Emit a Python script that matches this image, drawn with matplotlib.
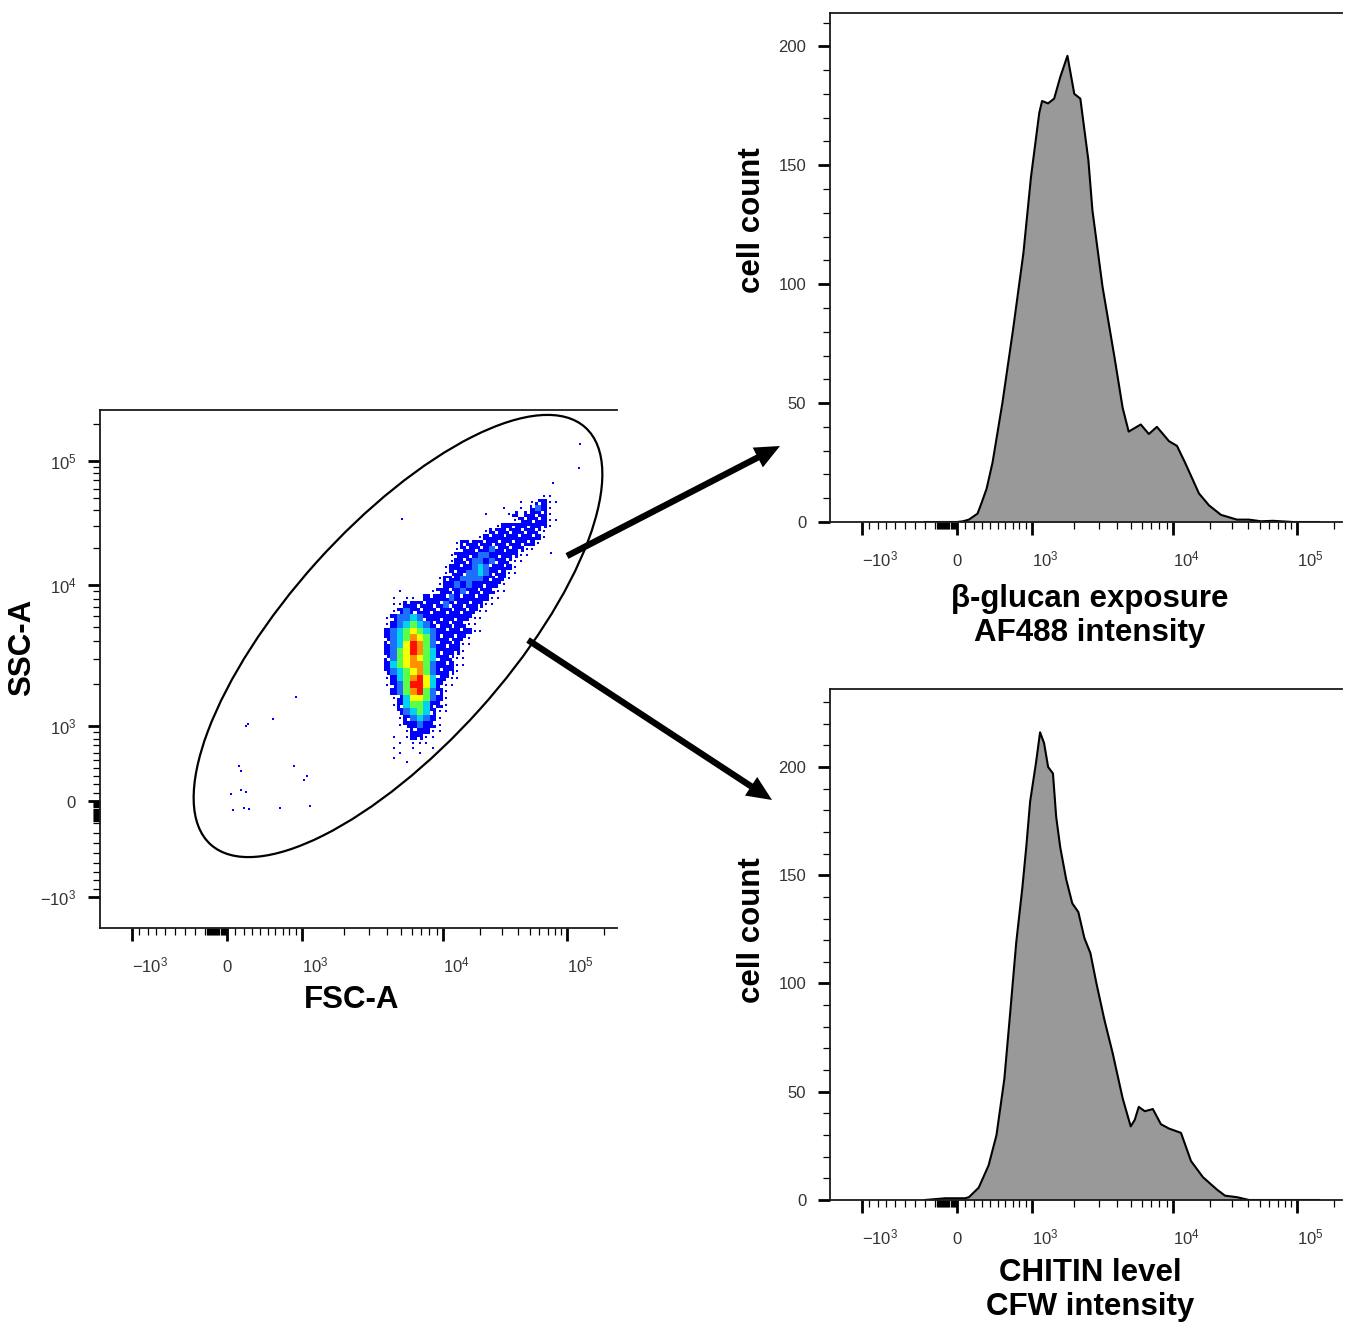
import numpy as np
import matplotlib.pyplot as plt
from matplotlib.patches import Ellipse, FancyArrowPatch
from matplotlib.colors import ListedColormap, BoundaryNorm

plt.rcParams['font.family'] = ['Liberation Sans', 'DejaVu Sans']
plt.rcParams['mathtext.fontset'] = 'custom'
plt.rcParams['mathtext.rm'] = 'Liberation Sans'
plt.rcParams['mathtext.default'] = 'regular'

# =============================================================================
# Data
# =============================================================================
# beta-glucan exposure (AF488) histogram
glucan_af488 = [-300, 0, 70, 140, 243, 282, 355, 430, 559, 708, 862, 983, 1126, 1179,
                1301, 1436, 1585, 1784, 1995, 2202, 2512, 2683, 3162, 3853, 4394, 4850,
                5907, 6741, 7688, 9363, 10770, 12500, 16200, 19510, 24380, 32820, 41020,
                51260, 64050, 74300, 92840, 150000]
glucan_count = [0, 0, 0.3, 1, 3.5, 7, 14, 25, 50, 81, 113, 145, 172, 177,
                176, 178, 187, 196, 180, 178, 152, 131, 99, 69, 48, 38,
                41, 37, 40, 34, 32, 25, 12, 7, 3, 1, 1,
                0.3, 0.5, 0.3, 0, 0]

# chitin level (CFW) histogram
chitin_cfw = [-300, -110, -37, 93, 140, 258, 380, 481, 586, 668, 754, 845, 907, 969,
              1068, 1141, 1218, 1301, 1408, 1484, 1585, 1749, 1931, 2131, 2352, 2596,
              2865, 3268, 3728, 4394, 5012, 5354, 5717, 6310, 7197, 8210, 9363, 11600,
              13970, 17460, 22640, 26270, 32820, 41020, 53190, 150000]
chitin_count = [0, 0.8, 0.8, 0.8, 1.3, 5.7, 16, 30, 56, 87, 119, 144, 163, 184,
                202, 216, 211, 200, 197, 177, 163, 148, 137, 133, 121, 114,
                100, 83, 68, 47, 34, 37, 43, 41, 42, 35, 33, 31,
                18, 10.5, 4.8, 2, 1.3, 0, 0, 0]

# FSC-A / SSC-A pseudocolor density: bins + density level per bin
# ' ' empty, '.' single events, b l c g y o r = blue ... red
fsc_edges = np.geomspace(3800, 95000, 31)
ssc_edges = np.geomspace(450, 55000, 45)
density_rows = [  # top row (high SSC) first
    "                          ..",
    "                      . .bb..",
    "                   .  . blb.",
    "                .   .b bbbb.",
    "                     .bbbbb..",
    "                  .bbbbbbbb.",
    "                .bbbbbbbbb.",
    "               .bbbbbbbbbb.",
    "           .bbbbbbbbbbbbb.",
    "           .bbbbblbbbbb..",
    "          .bbbbllbbbbb..",
    "          .bbbllblbbb..",
    "         .bbbblclbbbb.",
    "         .bbbllclbbb..",
    "        .bbbllllbbbb.",
    "        .bblblbbbbb.",
    "  .    .bbbblbbbbb..",
    " . .. bbbblbbbbbb..",
    " ..bbbbbblbbbbbb..",
    " .blbbbbbbbbbbb..",
    ".bllclbbbbbbbb..",
    ".blcgclbbbbbb..",
    "blcgygclbbbbbb..",
    "blcgoyglbbbbb.",
    "blcyroglbbbb..",
    "blgyrogcbbbb.",
    "blgyoygcbbb..",
    "bcgyooglbbb..",
    "blcgyoglbbb.",
    ".bcgorycbb..",
    ".blgrrycb..",
    " blgorglb.",
    " .bcyyglb.",
    " .bcggcbb.",
    "  blcgcb..",
    "  .blclb.",
    "  .bblbb.",
    "   .bbb..",
    " . .bb..",
    "  . ...",
    " .  .  .",
    "  .  .",
    " .",
    "   .",
]

# isolated events
out_fsc = [127300, 125000, 77100, 5120, 74300, 902, 567, 249, 225, 141, 165,
           871, 1085, 1033, 47, 165, 225, 71, 201, 261, 664, 1139]
out_ssc = [137100, 87800, 66450, 34060, 18130, 1606, 1121, 1033, 1000, 423, 360,
           423, 298, 249, 82, 130, 106, -83, -65, -74, -65, -46]

# =============================================================================
# FlowJo style biexponential axis (linear around 0, log above 10^3)
# =============================================================================
W, H = 1354, 1328

anchor_vals = np.array([-1e3, 0, 1e3, 1e4, 1e5])
anchor_pos = np.array([31.5, 127, 202, 343, 467])  # px from the axis start
A1 = np.arcsinh(1)


def g(v):
    v = np.asarray(v, dtype=float)
    big = np.log(np.maximum(v, 1000) / 1000) + A1
    return np.where(v >= 1000, big, np.arcsinh(v / 1000))


def g_inv(u):
    u = np.asarray(u, dtype=float)
    big = 1000 * np.exp(np.clip(u - A1, 0, 40))
    small = 1000 * np.sinh(np.clip(u, -40, A1))
    return np.where(u >= A1, big, small)


ga = g(anchor_vals)
s0 = (anchor_pos[1] - anchor_pos[0]) / (ga[1] - ga[0])
s1 = (anchor_pos[-1] - anchor_pos[-2]) / (ga[-1] - ga[-2])
G_EXT = np.r_[ga[0] - 40, ga, ga[-1] + 40]
P_EXT = np.r_[anchor_pos[0] - 40 * s0, anchor_pos, anchor_pos[-1] + 40 * s1]


def fwd(v):
    return np.interp(g(v), G_EXT, P_EXT)


def inv(p):
    return g_inv(np.interp(p, P_EXT, G_EXT))


major_vals = [-1e3, 0, 1e3, 1e4, 1e5]
x_labels = [r'$-10^3$', '0', r'$10^3$', r'$10^4$', r'$10^5$']
y_labels = [r'$-10^3$', r'$0\quad$', r'$10^3$', r'$10^4$', r'$10^5$']
minor_vals = (list(range(-900, -200, 100)) + list(range(-200, 0, 10))
              + list(range(100, 1000, 100)) + list(range(2000, 10000, 1000))
              + list(range(20000, 100000, 10000)) + [200000])

TICK_COLOR = '#333333'


def style_frame(ax):
    ax.spines['right'].set_visible(False)
    for s in ['left', 'top', 'bottom']:
        ax.spines[s].set_linewidth(1.3)
        ax.spines[s].set_color('#1a1a1a')
    ax.tick_params(which='major', length=9, width=2.0, labelsize=12,
                   labelcolor=TICK_COLOR)
    ax.tick_params(which='minor', length=5, width=0.9)
    ax.tick_params(axis='x', which='major', pad=23)
    ax.tick_params(axis='y', which='major', pad=8)


def biex_x(ax, width_px):
    ax.set_xscale('function', functions=(fwd, inv))
    ax.set_xlim(float(inv(0)), float(inv(width_px)))
    ax.set_xticks(major_vals, x_labels)
    ax.set_xticks(minor_vals, minor=True)


def biex_y(ax, height_px):
    ax.set_yscale('function', functions=(fwd, inv))
    ax.set_ylim(float(inv(0)), float(inv(height_px)))
    ax.set_yticks(major_vals, y_labels)
    ax.set_yticks(minor_vals, minor=True)


def fix_x_labels(ax):
    for tick, lbl in zip(ax.xaxis.get_major_ticks(), x_labels):
        tick.label1.set_ha('center' if lbl == '0' else 'left')
        tick.label1.set_va('baseline')


def fx(x):
    return x / W


def fy(y):
    return 1 - y / H


def split_edges(e):
    # each bin cut in two (geometric middle) for a finer, speckled raster
    mids = np.sqrt(e[:-1] * e[1:])
    out = np.empty(2 * len(e) - 1)
    out[0::2] = e
    out[1::2] = mids
    return out


fig = plt.figure(figsize=(W / 100, H / 100), dpi=100)

# =============================================================================
# FSC-A vs SSC-A pseudocolor plot
# =============================================================================
ax_sc = fig.add_axes([fx(100), fy(928), 517 / W, 518 / H])
style_frame(ax_sc)
biex_x(ax_sc, 517)
biex_y(ax_sc, 518)
fix_x_labels(ax_sc)

levels = {'b': 1, 'l': 2, 'c': 3, 'g': 4, 'y': 5, 'o': 6, 'r': 7}
ncol = len(fsc_edges) - 1
rows = [r.ljust(ncol) for r in density_rows[::-1]]
nrow = len(rows)
dens = np.full((2 * nrow, 2 * ncol), np.nan)
dot_x, dot_y = [], []
fsc_mid = np.sqrt(fsc_edges[:-1] * fsc_edges[1:])
ssc_mid = np.sqrt(ssc_edges[:-1] * ssc_edges[1:])
for i, row in enumerate(rows):
    for j, ch in enumerate(row):
        if ch in levels:
            lv = levels[ch]
            for si in range(2):
                for sj in range(2):
                    a, b = 2 * i + si, 2 * j + sj
                    # lowest level is drawn as a loose speckle, like single events
                    if lv == 1 and (a * 7 + b * 13 + a * b) % 5 == 0:
                        continue
                    dens[a, b] = lv
        elif ch == '.':
            dot_x.append(fsc_mid[j])
            dot_y.append(ssc_mid[i])

cmap = ListedColormap(['#0000ff', '#1f6fff', '#00d2f0', '#5cff48', '#f4ff00', '#ff9000', '#ff1000'])
norm = BoundaryNorm(np.arange(0.5, 8.5, 1), cmap.N)
ax_sc.pcolormesh(split_edges(fsc_edges), split_edges(ssc_edges), np.ma.masked_invalid(dens),
                 cmap=cmap, norm=norm, shading='flat', edgecolors='none', linewidth=0)
ax_sc.plot(dot_x, dot_y, 's', color='#0000ff', ms=1.7, mew=0)
ax_sc.plot(out_fsc, out_ssc, 's', color='#0000ff', ms=1.7, mew=0)

gate = Ellipse((0.5764, 0.5637), 1.0832, 0.4247, angle=48, transform=ax_sc.transAxes,
               fill=False, lw=1.6, ec='black')
ax_sc.add_patch(gate)

fig.text(fx(352), fy(1000), 'FSC-A', ha='center', va='center', fontsize=22.5, fontweight='bold')
fig.text(fx(22), fy(647), 'SSC-A', ha='center', va='center', rotation=90,
         fontsize=22.5, fontweight='bold')

# =============================================================================
# Histograms
# =============================================================================
def hist_panel(rect, vals, counts, ymax):
    ax = fig.add_axes(rect)
    style_frame(ax)
    ax.fill_between(vals, counts, 0, color='#999999', lw=0)
    ax.plot(vals, counts, color='black', lw=1.5)
    biex_x(ax, 512)
    ax.set_ylim(0, ymax)
    ax.set_yticks([0, 50, 100, 150, 200])
    ax.set_yticks(list(range(0, int(ymax) + 1, 10)), minor=True)
    fix_x_labels(ax)
    return ax


ax_h1 = hist_panel([fx(830), fy(522), 512 / W, 509 / H], glucan_af488, glucan_count, 214)
ax_h2 = hist_panel([fx(830), fy(1200), 512 / W, 511 / H], chitin_cfw, chitin_count, 236)

fig.text(fx(752), fy(220), 'cell count', ha='center', va='center', rotation=90,
         fontsize=22.5, fontweight='bold')
fig.text(fx(752), fy(930), 'cell count', ha='center', va='center', rotation=90,
         fontsize=22.5, fontweight='bold')
fig.text(fx(1090), fy(616), 'β-glucan exposure\nAF488 intensity', ha='center', va='center',
         fontsize=22.5, fontweight='bold', linespacing=1.2)
fig.text(fx(1090), fy(1290), 'CHITIN level\nCFW intensity', ha='center', va='center',
         fontsize=22.5, fontweight='bold', linespacing=1.2)

# arrows from the gate to the histograms
for (x0, y0), (x1, y1) in [((567, 556), (780, 446)), ((528, 640), (772, 800))]:
    arr = FancyArrowPatch((fx(x0), fy(y0)), (fx(x1), fy(y1)), transform=fig.transFigure,
                          arrowstyle='simple,head_length=0.9,head_width=0.8,tail_width=0.23',
                          mutation_scale=20, fc='black', ec='none', lw=0,
                          shrinkA=0, shrinkB=0)
    fig.add_artist(arr)

fig.savefig('out.png', dpi=100, facecolor='white')
